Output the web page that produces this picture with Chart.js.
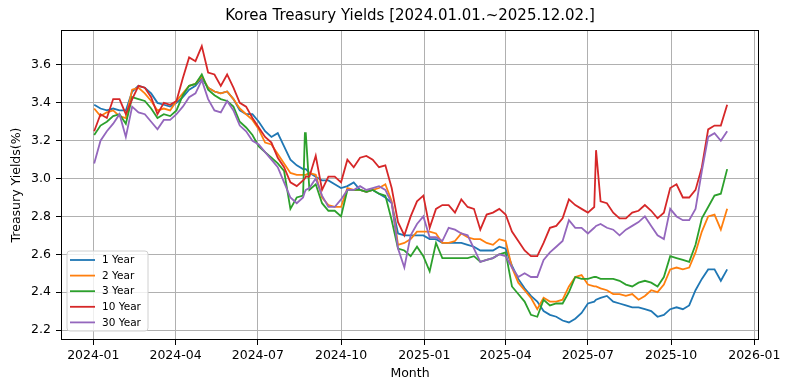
<!DOCTYPE html>
<html>
<head>
<meta charset="utf-8">
<script src="https://cdn.jsdelivr.net/npm/chart.js@4.4.1/dist/chart.umd.min.js"></script>
<style>
html,body{margin:0;padding:0;background:#fff;}
#wrap{width:792px;height:391px;position:relative;}
</style>
</head>
<body>
<div id="wrap"><canvas id="c" width="792" height="391"></canvas></div>
<script>
const chartTitle = "Korea Treasury Yields [2024.01.01.~2025.12.02.]";
const xTitle = "Month";
const yTitle = "Treasury Yields(%)";
const seriesNames = ["1 Year", "2 Year", "3 Year", "10 Year", "30 Year"];
const seriesColors = ["#1f77b4", "#ff7f0e", "#2ca02c", "#d62728", "#9467bd"];

const dates = [
"2024-01-02","2024-01-09","2024-01-16","2024-01-23","2024-01-30",
"2024-02-06","2024-02-13","2024-02-20","2024-02-27",
"2024-03-05","2024-03-12","2024-03-19","2024-03-26",
"2024-04-02","2024-04-09","2024-04-16","2024-04-23","2024-04-30",
"2024-05-07","2024-05-14","2024-05-21","2024-05-28",
"2024-06-04","2024-06-11","2024-06-18","2024-06-25",
"2024-07-02","2024-07-09","2024-07-16","2024-07-23","2024-07-30",
"2024-08-06","2024-08-13","2024-08-20","2024-08-22","2024-08-23","2024-08-27",
"2024-09-03","2024-09-10","2024-09-17","2024-09-24",
"2024-10-01","2024-10-08","2024-10-15","2024-10-22","2024-10-29",
"2024-11-05","2024-11-12","2024-11-19","2024-11-26",
"2024-12-03","2024-12-10","2024-12-17","2024-12-24","2024-12-31",
"2025-01-07","2025-01-14","2025-01-21","2025-01-28",
"2025-02-04","2025-02-11","2025-02-18","2025-02-25",
"2025-03-04","2025-03-11","2025-03-18","2025-03-25",
"2025-04-01","2025-04-08","2025-04-15","2025-04-22","2025-04-29",
"2025-05-06","2025-05-13","2025-05-20","2025-05-27",
"2025-06-03","2025-06-10","2025-06-17","2025-06-24",
"2025-07-01","2025-07-08","2025-07-10","2025-07-15","2025-07-22","2025-07-29",
"2025-08-05","2025-08-12","2025-08-19","2025-08-26",
"2025-09-02","2025-09-09","2025-09-16","2025-09-23","2025-09-30",
"2025-10-07","2025-10-14","2025-10-21","2025-10-28",
"2025-11-04","2025-11-11","2025-11-18","2025-11-25",
"2025-12-02"
];

const y1 = [
3.39,3.37,3.36,3.37,3.36,
3.36,3.46,3.49,3.48,
3.45,3.40,3.39,3.38,
3.40,3.43,3.47,3.49,3.53,
3.48,3.46,3.45,3.46,
3.42,3.36,3.34,3.34,
3.30,3.25,3.22,3.24,3.17,
3.10,3.07,3.05,3.05,3.05,3.03,
3.01,2.99,2.99,2.97,
2.95,2.96,2.98,2.94,2.93,
2.94,2.92,2.90,2.87,
2.71,2.70,2.70,2.70,2.70,
2.68,2.68,2.66,2.66,
2.66,2.66,2.65,2.64,
2.62,2.62,2.62,2.64,
2.63,2.54,2.47,2.42,2.38,
2.35,2.30,2.28,2.27,
2.25,2.24,2.26,2.29,
2.34,2.35,2.36,2.37,2.38,2.35,
2.34,2.33,2.32,2.32,
2.31,2.30,2.27,2.28,2.31,
2.32,2.31,2.33,2.41,
2.47,2.52,2.52,2.46,
2.52
];
const y2 = [
3.37,3.33,3.35,3.36,3.33,
3.32,3.47,3.48,3.45,
3.41,3.36,3.37,3.36,
3.41,3.45,3.49,3.50,3.54,
3.48,3.46,3.45,3.46,
3.42,3.37,3.34,3.31,
3.26,3.19,3.18,3.13,3.08,
3.03,3.02,3.02,3.02,3.02,3.03,
3.02,2.90,2.86,2.85,
2.85,2.95,2.94,2.94,2.93,
2.94,2.95,2.97,2.88,
2.65,2.66,2.68,2.72,2.72,
2.72,2.71,2.66,2.66,
2.67,2.71,2.69,2.68,
2.68,2.66,2.65,2.68,
2.67,2.53,2.45,2.41,2.37,
2.31,2.37,2.35,2.35,
2.36,2.43,2.48,2.49,
2.44,2.43,2.43,2.42,2.41,2.39,
2.39,2.38,2.39,2.36,
2.38,2.41,2.40,2.44,2.52,
2.53,2.52,2.53,2.61,
2.72,2.80,2.81,2.73,
2.84
];
const y3 = [
3.23,3.28,3.30,3.33,3.34,
3.29,3.43,3.42,3.41,
3.37,3.32,3.34,3.33,
3.36,3.44,3.49,3.50,3.55,
3.47,3.44,3.42,3.41,
3.38,3.30,3.27,3.23,
3.17,3.14,3.11,3.08,3.04,
2.84,2.90,2.91,3.24,3.24,2.94,
2.97,2.87,2.83,2.83,
2.80,2.94,2.94,2.94,2.93,
2.94,2.92,2.91,2.78,
2.63,2.62,2.59,2.64,2.59,
2.51,2.66,2.58,2.58,
2.58,2.58,2.58,2.59,
2.56,2.57,2.58,2.60,
2.61,2.43,2.39,2.35,2.28,
2.27,2.36,2.33,2.34,
2.34,2.40,2.48,2.47,
2.47,2.48,2.48,2.47,2.47,2.47,
2.46,2.44,2.43,2.45,
2.46,2.45,2.43,2.48,2.59,
2.58,2.57,2.56,2.65,
2.79,2.85,2.91,2.92,
3.05
];
const y10 = [
3.25,3.34,3.32,3.42,3.42,
3.34,3.42,3.49,3.48,
3.43,3.34,3.40,3.39,
3.41,3.53,3.64,3.62,3.70,
3.56,3.55,3.49,3.55,
3.48,3.40,3.38,3.32,
3.27,3.22,3.19,3.11,3.06,
2.98,2.96,2.99,3.00,3.01,3.01,
3.12,2.94,3.01,3.01,
2.98,3.10,3.06,3.11,3.12,
3.10,3.06,3.07,2.95,
2.77,2.70,2.80,2.88,2.91,
2.74,2.84,2.86,2.86,
2.82,2.89,2.85,2.84,
2.73,2.81,2.82,2.84,
2.81,2.72,2.67,2.62,2.59,
2.59,2.66,2.74,2.75,
2.79,2.89,2.86,2.84,
2.82,2.85,3.15,2.88,2.87,2.82,
2.79,2.79,2.82,2.83,
2.86,2.83,2.79,2.82,2.95,
2.97,2.90,2.90,2.94,
3.06,3.26,3.28,3.28,
3.39
];
const y30 = [
3.08,3.20,3.25,3.29,3.34,
3.22,3.38,3.35,3.34,
3.30,3.26,3.31,3.31,
3.34,3.38,3.43,3.45,3.52,
3.42,3.36,3.35,3.41,
3.36,3.28,3.25,3.20,
3.18,3.14,3.10,3.06,2.98,
2.90,2.87,2.90,2.93,2.94,2.95,
3.00,2.91,2.85,2.85,
2.89,2.94,2.94,2.96,2.94,
2.95,2.96,2.94,2.87,
2.63,2.53,2.70,2.76,2.80,
2.69,2.69,2.67,2.74,
2.73,2.71,2.70,2.63,
2.56,2.57,2.58,2.60,
2.59,2.53,2.48,2.50,2.48,
2.48,2.57,2.61,2.64,
2.67,2.78,2.74,2.74,
2.71,2.74,2.75,2.76,2.74,2.73,
2.70,2.73,2.75,2.77,
2.80,2.75,2.70,2.68,2.84,
2.80,2.78,2.78,2.84,
3.04,3.22,3.24,3.20,
3.25
];

const yTicks = [2.2, 2.4, 2.6, 2.8, 3.0, 3.2, 3.4, 3.6];
const xTickDates = ["2024-01-01","2024-04-01","2024-07-01","2024-10-01","2025-01-01","2025-04-01","2025-07-01","2025-10-01","2026-01-01"];
const xTickLabels = ["2024-01","2024-04","2024-07","2024-10","2025-01","2025-04","2025-07","2025-10","2026-01"];

const DAY0 = Date.UTC(2024, 0, 1);
function dayNum(s) {
  const p = s.split("-").map(Number);
  return (Date.UTC(p[0], p[1] - 1, p[2]) - DAY0) / 86400000;
}
const xTickVals = xTickDates.map(dayNum);
const allSeries = [y1, y2, y3, y10, y30];

const FONT = "'DejaVu Sans', 'Liberation Sans', sans-serif";
Chart.defaults.font.family = FONT;
Chart.defaults.color = "#000";

const datasets = allSeries.map((vals, i) => ({
  label: seriesNames[i],
  data: dates.map((d, j) => ({ x: dayNum(d), y: vals[j] })),
  borderColor: seriesColors[i],
  backgroundColor: seriesColors[i],
  borderWidth: 1.8,
  pointRadius: 0,
  tension: 0,
  fill: false,
  order: allSeries.length - i
}));

const decor = {
  id: "decor",
  afterDatasetsDraw(chart) {
    const ctx = chart.ctx, a = chart.chartArea;
    ctx.save();
    // spines
    ctx.strokeStyle = "#000";
    ctx.lineWidth = 1;
    ctx.strokeRect(Math.round(a.left) + 0.5, Math.round(a.top) + 0.5, Math.round(a.right - a.left) - 1, Math.round(a.bottom - a.top) - 1);
    // title
    ctx.fillStyle = "#000";
    ctx.textAlign = "center";
    ctx.textBaseline = "middle";
    ctx.font = "15px " + FONT;
    ctx.fillText(chartTitle, (a.left + a.right) / 2, 16);
    // x title
    ctx.font = "12.5px " + FONT;
    ctx.fillText(xTitle, (a.left + a.right) / 2, 374);
    // y title
    ctx.save();
    ctx.translate(17, (a.top + a.bottom) / 2);
    ctx.rotate(-Math.PI / 2);
    ctx.fillText(yTitle, 0, 0);
    ctx.restore();
    // legend
    const lx = 67, ly = 251, lw = 81, lh = 80, r = 3;
    ctx.beginPath();
    ctx.moveTo(lx + r, ly);
    ctx.lineTo(lx + lw - r, ly);
    ctx.quadraticCurveTo(lx + lw, ly, lx + lw, ly + r);
    ctx.lineTo(lx + lw, ly + lh - r);
    ctx.quadraticCurveTo(lx + lw, ly + lh, lx + lw - r, ly + lh);
    ctx.lineTo(lx + r, ly + lh);
    ctx.quadraticCurveTo(lx, ly + lh, lx, ly + lh - r);
    ctx.lineTo(lx, ly + r);
    ctx.quadraticCurveTo(lx, ly, lx + r, ly);
    ctx.closePath();
    ctx.fillStyle = "rgba(255,255,255,0.8)";
    ctx.fill();
    ctx.strokeStyle = "#d0d0d0";
    ctx.lineWidth = 1;
    ctx.stroke();
    ctx.font = "10.5px " + FONT;
    ctx.textAlign = "left";
    ctx.textBaseline = "middle";
    seriesNames.forEach((n, i) => {
      const yy = 260 + i * 15.6;
      ctx.strokeStyle = seriesColors[i];
      ctx.lineWidth = 1.8;
      ctx.beginPath();
      ctx.moveTo(70, yy);
      ctx.lineTo(95, yy);
      ctx.stroke();
      ctx.fillStyle = "#000";
      ctx.fillText(n, 102, yy + 0.5);
    });
    ctx.restore();
  }
};

new Chart(document.getElementById("c"), {
  type: "line",
  data: { datasets },
  plugins: [decor],
  options: {
    responsive: false,
    animation: false,
    devicePixelRatio: 1,
    layout: { padding: { top: 30, right: 33, left: 0, bottom: 0 } },
    plugins: { legend: { display: false }, title: { display: false }, tooltip: { enabled: false } },
    scales: {
      x: {
        type: "linear",
        min: -35.7,
        max: 736.2,
        grid: { color: "#b0b0b0", lineWidth: 1, tickLength: 5, tickColor: "#000", tickWidth: 1 },
        border: { display: false },
        ticks: {
          padding: 3,
          font: { size: 12.5, family: FONT },
          color: "#000",
          maxRotation: 0,
          autoSkip: false,
          callback: (v) => { const i = xTickVals.indexOf(v); return i >= 0 ? xTickLabels[i] : ""; }
        },
        afterBuildTicks: (s) => { s.ticks = xTickVals.map(v => ({ value: v })); },
        afterFit: (s) => { s.height = 51; s.paddingLeft = 0; s.paddingRight = 0; }
      },
      y: {
        type: "linear",
        min: 2.1472,
        max: 3.7849,
        grid: { color: "#b0b0b0", lineWidth: 1, tickLength: 5, tickColor: "#000", tickWidth: 1 },
        border: { display: false },
        ticks: {
          padding: 5,
          font: { size: 12.5, family: FONT },
          color: "#000",
          callback: (v) => v.toFixed(1)
        },
        afterBuildTicks: (s) => { s.ticks = yTicks.map(v => ({ value: v })); },
        afterFit: (s) => { s.width = 61; s.paddingTop = 0; s.paddingBottom = 0; }
      }
    }
  }
});
</script>
</body>
</html>
